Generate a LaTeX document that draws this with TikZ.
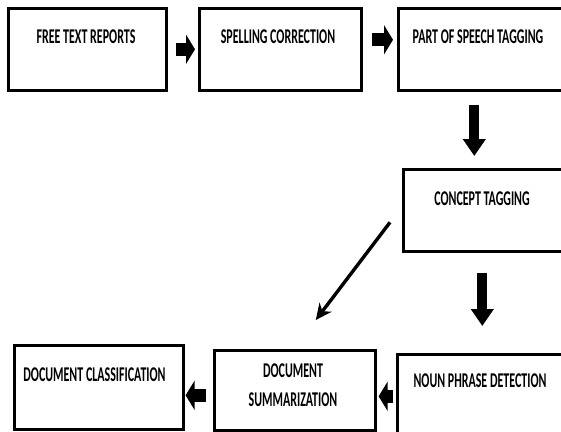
\documentclass[tikz,border=0pt]{standalone}
\usepackage{fontspec}
\newfontfamily\stagefont{Carlito}[FakeStretch=0.57]
\usetikzlibrary{arrows.meta}

\tikzset{
  stage/.style={draw=black, line width=2.6pt, anchor=north west, inner sep=0pt, minimum height=82pt},
  stagetext/.style={font=\stagefont\bfseries\fontsize{21}{29}\selectfont, inner sep=0pt, align=center},
  blockarrow/.style={line width=13pt, -{Triangle[length=9pt, width=29pt]}},
  downarrow/.style={line width=10pt, -{Triangle[length=17pt, width=22pt]}},
  thinarrow/.style={line width=3.4pt, -{Stealth[length=16pt, width=15pt, inset=5pt]}}
}

\begin{document}
\begin{tikzpicture}[x=1pt, y=-1pt]
  \useasboundingbox (0,0) rectangle (561,431);
  \clip (0,0) rectangle (561,431);
  \node[stage, minimum width=158pt] (free) at (7,7) {};
  \node[stage, minimum width=162pt] (spell) at (198,7) {};
  \node[stage, minimum width=180pt] (pos) at (397,7) {};
  \node[stage, minimum width=180pt] (concept) at (402,168) {};
  \node[stage, minimum width=180pt, minimum height=80pt] (noun) at (396,353) {};
  \node[stage, minimum width=161pt, minimum height=80pt] (summ) at (213,349) {};
  \node[stage, minimum width=169pt, minimum height=84pt] (class) at (13,344) {};
  \node[stagetext] (freetxt) at (86,37) {FREE TEXT REPORTS};
  \node[stagetext] (spelltxt) at (278,37) {SPELLING CORRECTION};
  \node[stagetext] (postxt) at (478,37) {PART OF SPEECH TAGGING};
  \node[stagetext] (concepttxt) at (482,199) {CONCEPT TAGGING};
  \node[stagetext] (nountxt) at (480,381) {NOUN PHRASE DETECTION};
  \node[stagetext] (summtxt) at (293,385.5) {DOCUMENT\\SUMMARIZATION};
  \node[stagetext] (classtxt) at (94.5,375) {DOCUMENT CLASSIFICATION};
  \draw[blockarrow] ([xshift=8pt]free.east) -- ([xshift=-3pt]spell.west);
  \draw[blockarrow] ([xshift=9pt, yshift=9.5pt]spell.east) -- ([xshift=-4pt, yshift=9.5pt]pos.west);
  \draw[downarrow] ([xshift=-14pt, yshift=-13pt]pos.south) -- ([xshift=-19pt, yshift=12pt]concept.north);
  \draw[downarrow] ([xshift=-11pt, yshift=-20pt]concept.south) -- ([xshift=-5pt, yshift=27pt]noun.north);
  \draw[thinarrow] ([xshift=-12pt, yshift=-12pt]concept.west) -- ([xshift=21pt, yshift=29pt]summ.north);
  \draw[blockarrow] ([xshift=-3pt, yshift=-2pt]noun.west) -- ([xshift=2pt, yshift=-6pt]summ.east);
  \draw[blockarrow] ([xshift=-7pt, yshift=-5pt]summ.west) -- ([xshift=1pt, yshift=-8pt]class.east);
\end{tikzpicture}
\end{document}
